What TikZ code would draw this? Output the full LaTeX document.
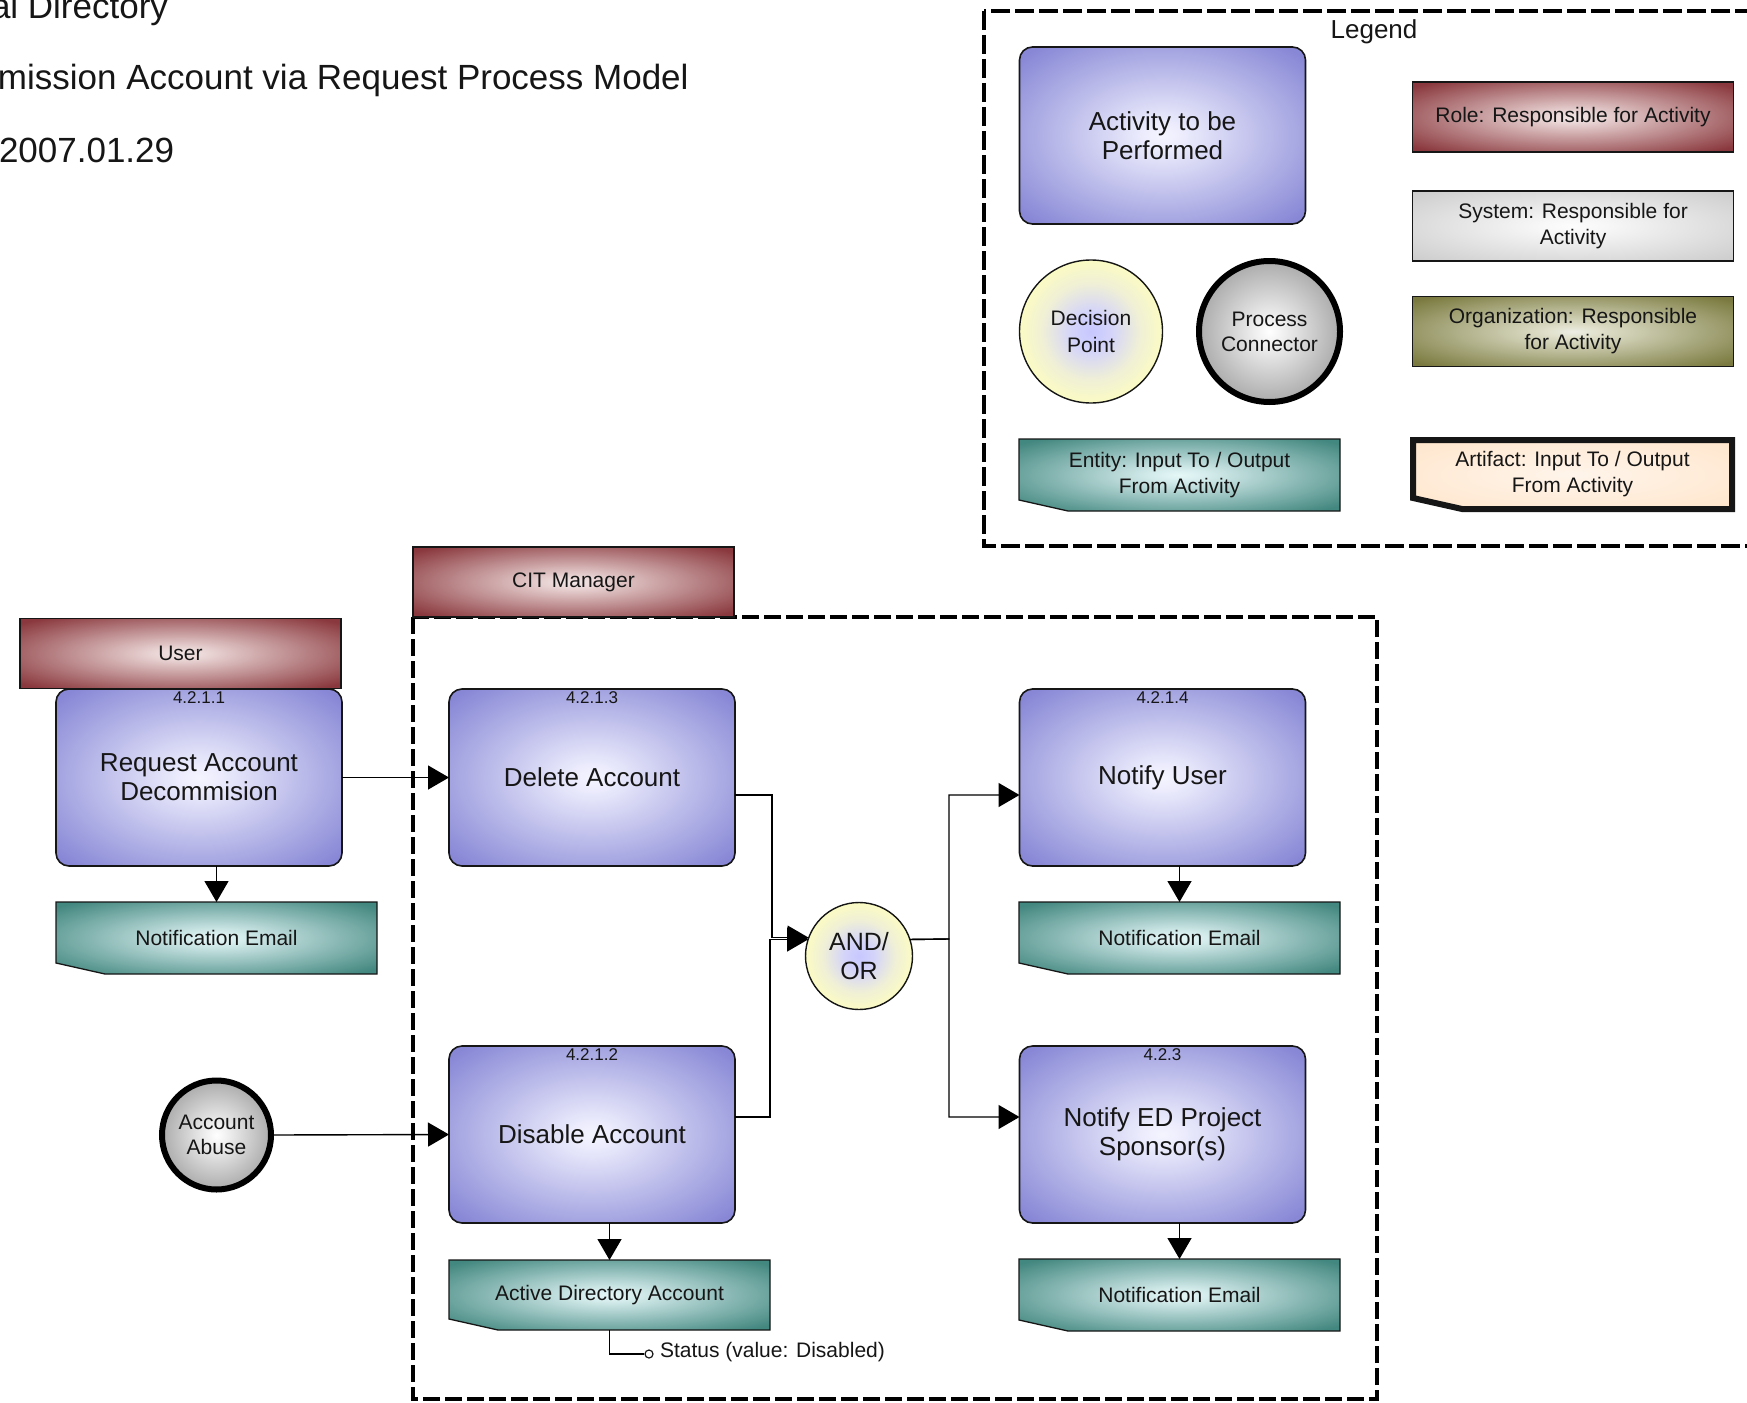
\documentclass[tikz,border=0pt]{standalone}
\usepackage{fontspec}
\setmainfont{Liberation Sans}
\usetikzlibrary{arrows.meta,calc}

\definecolor{ink}{RGB}{22,22,22}

% box-like gradients: light centre fading to the edge colour
\pgfdeclareradialshading{actshade}{\pgfpointorigin}{rgb(0bp)=(0.96,0.96,1);rgb(4bp)=(0.92,0.92,0.99);rgb(33bp)=(0.53,0.53,0.84);rgb(50bp)=(0.53,0.53,0.84)}
\pgfdeclareradialshading{roleshade}{\pgfpointorigin}{rgb(0bp)=(0.95,0.9,0.9);rgb(4bp)=(0.92,0.84,0.84);rgb(33bp)=(0.54,0.22,0.24);rgb(50bp)=(0.54,0.22,0.24)}
\pgfdeclareradialshading{sysshade}{\pgfpointorigin}{rgb(0bp)=(0.99,0.99,0.99);rgb(5bp)=(0.97,0.97,0.97);rgb(35bp)=(0.8,0.8,0.8);rgb(50bp)=(0.8,0.8,0.8)}
\pgfdeclareradialshading{orgshade}{\pgfpointorigin}{rgb(0bp)=(0.93,0.93,0.9);rgb(4bp)=(0.88,0.88,0.8);rgb(33bp)=(0.48,0.48,0.25);rgb(50bp)=(0.48,0.48,0.25)}
\pgfdeclareradialshading{entshade}{\pgfpointorigin}{rgb(0bp)=(0.9,0.97,0.97);rgb(4bp)=(0.84,0.93,0.93);rgb(33bp)=(0.26,0.53,0.5);rgb(50bp)=(0.26,0.53,0.5)}
\pgfdeclareradialshading{artshade}{\pgfpointorigin}{rgb(0bp)=(1,0.96,0.92);rgb(35bp)=(1,0.9,0.8);rgb(50bp)=(1,0.9,0.8)}
\pgfdeclareradialshading{decshade}{\pgfpointorigin}{rgb(0bp)=(0.78,0.78,1);rgb(7bp)=(0.83,0.83,0.98);rgb(17bp)=(0.94,0.94,0.84);rgb(28bp)=(1,1,0.74);rgb(50bp)=(1,1,0.74)}
\pgfdeclareradialshading{procshade}{\pgfpointorigin}{rgb(0bp)=(1,1,1);rgb(5bp)=(0.94,0.94,0.94);rgb(44bp)=(0.42,0.42,0.42);rgb(50bp)=(0.42,0.42,0.42)}

\tikzset{
  txt/.style={text=ink, inner sep=0pt, outer sep=0pt, align=center},
  activity/.style={shape=rectangle, rounded corners=13pt, draw=ink, line width=1.6pt,
    shade, shading=actshade, minimum width=286pt, minimum height=177pt, txt,
    font=\fontsize{26}{29}\selectfont},
  rolebox/.style={shape=rectangle, draw=ink, line width=1.3pt, shade, shading=roleshade,
    minimum width=321pt, minimum height=70pt, txt, font=\fontsize{21}{26}\selectfont},
  entityframe/.style={shape=rectangle, minimum width=321pt, minimum height=72pt, txt},
  entitytext/.style={txt, font=\fontsize{21}{26}\selectfont},
  decision/.style={shape=circle, draw=ink, line width=1.4pt, shade, shading=decshade,
    txt, font=\fontsize{21}{27}\selectfont},
  connector/.style={shape=circle, draw=black, line width=6pt, shade, shading=procshade,
    txt, font=\fontsize{21}{25}\selectfont},
  numlbl/.style={txt, font=\fontsize{17}{18}\selectfont, anchor=north},
  titletxt/.style={txt, anchor=base west, font=\fontsize{35}{40}\selectfont},
  conn/.style={draw=black, line width=1.4pt},
  flow/.style={conn, -{Triangle[length=21pt,width=24pt]}},
  lane/.style={draw=black, line width=3.5pt, dash pattern=on 17pt off 5pt},
}

% notched entity outline drawn on an (empty) frame node
\newcommand\entityshape[3]{%
  \shade[shading=#2, draw=ink, line width=#3]
    (#1.north west) -- (#1.north east) -- (#1.south east)
    -- ([xshift=49pt]#1.south west) -- ([yshift=11pt]#1.south west) -- cycle;
}

\begin{document}
\begin{tikzpicture}[x=1pt,y=-1pt]
\useasboundingbox (0,0) rectangle (1747,1402);
\clip (0,0) rectangle (1747,1402);

% heading
\node[titletxt] (t1) at (-9,19) {al Directory};
\node[titletxt] (t2) at (-2,90) {mission Account via Request Process Model};
\node[titletxt] (t3) at (-1,162) {2007.01.29};

% ---------------- legend ----------------
\draw[lane, line width=4pt, dash pattern=on 19pt off 5pt] (984,11) rectangle (1770,546);
\node[txt, font=\fontsize{26}{29}\selectfont] (lgd) at (1374,32) {Legend};
\node[activity] (lact) at (1162.5,135.5) {Activity to be\\Performed};
\node[rolebox] (lrole) at (1573,117) {Role: Responsible for Activity};
\node[rolebox, shading=sysshade] (lsys) at (1573,226) {System: Responsible for\\Activity};
\node[rolebox, shading=orgshade] (lorg) at (1573,331.5) {Organization: Responsible\\for Activity};
\node[decision, minimum size=143pt] (ldec) at (1091,331.5) {Decision\\Point};
\node[connector, minimum size=141pt] (lproc) at (1269.5,331.5) {Process\\Connector};

\node[entityframe] (lent) at (1179.5,475) {};
\entityshape{lent}{entshade}{1.3pt}
\node[entitytext] (lentt) at (lent) {Entity: Input To / Output\\From Activity};

\node[entityframe, minimum width=319pt, minimum height=69pt] (lart) at (1572.5,474.5) {};
\entityshape{lart}{artshade}{6pt}
\node[entitytext] (lartt) at (lart) {Artifact: Input To / Output\\From Activity};

% ---------------- process ----------------
\draw[lane] (413,617) rectangle (1377,1399);
\node[rolebox] (cit) at (573.5,582) {CIT Manager};
\node[rolebox] (usr) at (180.5,653.5) {User};

\node[activity] (a1) at (199,777.5) {Request Account\\Decommision};
\node[numlbl] (a1n) at ([yshift=-3pt]a1.north) {4.2.1.1};
\node[activity] (del) at (592,777.5) {Delete Account};
\node[numlbl] (deln) at ([yshift=-3pt]del.north) {4.2.1.3};
\node[activity] (nu) at (1162.5,777.5) {Notify User};
\node[numlbl] (nun) at ([yshift=-3pt]nu.north) {4.2.1.4};
\node[activity] (dis) at (592,1134.5) {Disable Account};
\node[numlbl] (disn) at ([yshift=-3pt]dis.north) {4.2.1.2};
\node[activity] (ned) at (1162.5,1134.5) {Notify ED Project\\Sponsor(s)};
\node[numlbl] (nedn) at ([yshift=-3pt]ned.north) {4.2.3};

\node[decision, minimum size=107pt, font=\fontsize{25}{29}\selectfont] (andor) at (859,956) {AND/\\OR};
\node[connector, minimum size=109pt] (abuse) at (216.5,1135) {Account\\Abuse};

\node[entityframe] (e1) at (216.5,938) {};
\entityshape{e1}{entshade}{1.3pt}
\node[entitytext] (e1t) at (e1) {Notification Email};

\node[entityframe] (e2) at (1179.5,938) {};
\entityshape{e2}{entshade}{1.3pt}
\node[entitytext] (e2t) at (e2) {Notification Email};

\node[entityframe] (e3) at (1179.5,1295) {};
\entityshape{e3}{entshade}{1.3pt}
\node[entitytext] (e3t) at (e3) {Notification Email};

\node[entityframe, minimum height=70pt] (ad) at (609.5,1295) {};
\entityshape{ad}{entshade}{1.3pt}
\node[entitytext] (adt) at (ad) {Active Directory Account};

\node[circle, draw=ink, line width=1.2pt, fill=white, minimum size=8pt, inner sep=0pt] (stc) at (649,1354) {};
\node[txt, anchor=west, font=\fontsize{21}{24}\selectfont] (st) at (660,1352) {Status (value: Disabled)};

% connectors
\draw[flow] (a1.east) -- (del.west);
\draw[flow] (abuse.east) -- (dis.west);
\draw[flow] ([yshift=-17.5pt]del.east) -- (772,795) |- (andor.160);
\draw[flow] ([yshift=17.5pt]dis.east) -- (770,1117) |- (andor.162);
\draw[flow] (andor.18) -- (949,939) |- ([yshift=-17.5pt]nu.west);
\draw[flow] (andor.18) -- (949,939) |- ([yshift=17.5pt]ned.west);
\draw[flow] (a1.south -| e1.north) -- (e1.north);
\draw[flow] (nu.south -| e2.north) -- (e2.north);
\draw[flow] (ned.south -| e3.north) -- (e3.north);
\draw[flow] (dis.south -| ad.north) -- (ad.north);
\draw[conn] (ad.south) |- (stc.west);
\end{tikzpicture}
\end{document}
